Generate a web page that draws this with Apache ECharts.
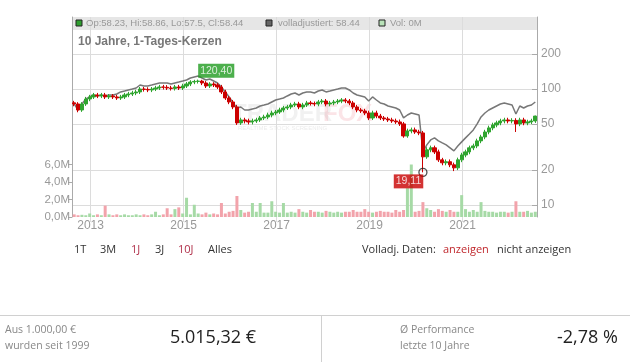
<!DOCTYPE html>
<html><head><meta charset="utf-8">
<script src="https://cdn.jsdelivr.net/npm/echarts@6/dist/echarts.min.js"></script>
<style>html,body{margin:0;padding:0;background:#fff}#c{width:630px;height:362px}</style>
</head><body><div id="c"></div>
<script>
const months = [
'2012-09','2012-10','2012-11','2012-12',
'2013-01','2013-02','2013-03','2013-04','2013-05','2013-06','2013-07','2013-08','2013-09','2013-10','2013-11','2013-12',
'2014-01','2014-02','2014-03','2014-04','2014-05','2014-06','2014-07','2014-08','2014-09','2014-10','2014-11','2014-12',
'2015-01','2015-02','2015-03','2015-04','2015-05','2015-06','2015-07','2015-08','2015-09','2015-10','2015-11','2015-12',
'2016-01','2016-02','2016-03','2016-04','2016-05','2016-06','2016-07','2016-08','2016-09','2016-10','2016-11','2016-12',
'2017-01','2017-02','2017-03','2017-04','2017-05','2017-06','2017-07','2017-08','2017-09','2017-10','2017-11','2017-12',
'2018-01','2018-02','2018-03','2018-04','2018-05','2018-06','2018-07','2018-08','2018-09','2018-10','2018-11','2018-12',
'2019-01','2019-02','2019-03','2019-04','2019-05','2019-06','2019-07','2019-08','2019-09','2019-10','2019-11','2019-12',
'2020-01','2020-02','2020-03','2020-04','2020-05','2020-06','2020-07','2020-08','2020-09','2020-10','2020-11','2020-12',
'2021-01','2021-02','2021-03','2021-04','2021-05','2021-06','2021-07','2021-08','2021-09','2021-10','2021-11','2021-12',
'2022-01','2022-02','2022-03','2022-04','2022-05','2022-06','2022-07','2022-08'];

const opens = [
76.0,74.3,65.9,74.3,
82.0,85.4,88.8,87.1,88.8,85.4,87.1,85.4,83.7,85.4,88.8,90.6,
92.4,94.3,100.0,99.2,98.1,100.0,102.0,104.1,103.5,102.0,101.2,104.1,
102.0,106.2,110.5,114.9,116.2,117.0,112.7,106.2,110.5,108.3,104.1,94.3,
83.7,77.3,70.0,51.0,54.1,53.0,52.0,53.0,54.1,56.3,57.4,59.7,
62.1,63.4,65.9,68.6,70.0,72.8,74.3,70.0,72.8,75.8,75.0,74.3,
77.3,78.8,74.3,75.8,77.3,78.8,80.4,78.8,75.8,70.0,65.9,64.6,
62.1,56.3,62.1,58.5,56.3,55.2,54.1,53.0,52.0,50.0,39.4,43.5,
44.4,42.6,41.8,26.0,29.9,31.1,28.7,24.5,23.1,23.6,22.2,20.9,
24.5,27.0,28.7,31.1,32.3,35.7,38.6,42.6,46.2,49.0,51.0,53.0,
54.1,53.0,53.6,50.0,54.1,51.0,52.0,53.0];

const closes = [
74.3,65.9,74.3,82.0,
85.4,88.8,87.1,88.8,85.4,87.1,85.4,83.7,85.4,88.8,90.6,92.4,
94.3,100.0,99.2,98.1,100.0,102.0,104.1,103.5,102.0,101.2,104.1,102.0,
106.2,110.5,114.9,116.2,117.0,112.7,106.2,110.5,108.3,104.1,94.3,83.7,
77.3,70.0,51.0,54.1,53.0,52.0,53.0,54.1,56.3,57.4,59.7,62.1,
63.4,65.9,68.6,70.0,72.8,74.3,70.0,72.8,75.8,75.0,74.3,77.3,
78.8,74.3,75.8,77.3,78.8,80.4,78.8,75.8,70.0,65.9,64.6,62.1,
56.3,62.1,58.5,56.3,55.2,54.1,53.0,52.0,50.0,39.4,43.5,44.4,
42.6,41.8,26.0,29.9,31.1,28.7,24.5,23.1,23.6,22.2,20.9,24.5,
27.0,28.7,31.1,32.3,35.7,38.6,42.6,46.2,49.0,51.0,53.0,54.1,
53.0,53.6,50.0,54.1,51.0,52.0,53.0,58.44];

const highs = [
79,77,77,85.5,
89,92.5,92.5,92.5,92.5,90.5,90.5,89,89,92.5,94.5,96.5,
98.5,104,104,103.5,104,106.5,108.5,108.5,108,106.5,108.5,108.5,
111,115,119,120,120.4,120,117,114.5,114.5,112.5,108.5,98.5,
87,80.5,73,56.5,56.5,55.5,55.5,56.5,58.5,60,62.5,65,
66,69,71.5,73,76,77.5,77.5,76,79,79,78,80.5,
82,82,79,80.5,82,83.5,83.5,82,79,73,68.5,67.5,
65,65,65,61,58.5,57.5,56.5,55.5,54.5,52,45.5,46.5,
46.5,44.5,43.5,31.5,32.5,32.5,30,25.5,24.7,24.7,23.2,25.6,
28.2,30,32.5,33.8,37.3,40.3,44.5,48.3,51.2,53.3,55.4,56.5,
56.5,56,56,56.5,56.5,54.3,55.4,58.86];

const lows = [
71,63,63.5,71.5,
78.5,82,83.5,83.5,82,82,82,80.5,80.5,82,85,87,
88.5,90.5,95,94,94,96,98,99,98,97,97,98,
98,102,106,110,111.5,108,102,102,104,100,90.5,80.5,
74,67,49,49,50.5,49.5,49.5,51,52,54,55,57,
59.5,61,63,66,67,70,67,67,70,72,71,71,
74,71,71,72.5,74,75.5,75.5,72.5,67,63,62,59.5,
54,54,56,54,53,52,51,50,48,38,38,41.5,
41,40,19.11,25,28.5,27.5,23.5,22,22,21.2,19.6,20,
23.4,25.8,27.4,29.7,30.9,34.1,36.9,40.7,44.1,46.8,48.7,50.6,
50.6,50.6,42.6,47.8,48.7,48.7,49.7,51];

const adjusted = [
74.3,65.9,74.3,82.0,
85.4,88.8,87.1,88.8,87.1,88.8,88.8,90.6,94.3,96.1,98.1,100.0,
102.0,108.3,106.2,106.2,108.3,110.5,112.7,112.7,112.7,110.5,112.7,114.9,
117.2,119.6,124.4,126.9,129.4,124.4,119.6,121.9,117.2,112.7,104.1,94.3,
85.4,75.8,68.6,70.0,65.9,65.9,67.3,68.6,71.4,72.8,74.3,77.3,
80.4,82.0,83.7,87.1,90.6,92.4,88.8,92.4,94.3,94.3,92.4,96.1,
98.1,94.3,96.1,98.1,100.0,102.0,102.0,98.1,92.4,88.8,87.1,85.4,
78.8,85.4,80.4,75.8,74.3,71.4,70.0,68.6,65.9,56.3,59.7,62.1,
60.9,59.7,28.5,33.0,36.4,37.9,35.7,34.3,33.0,31.1,29.3,32.3,
35.0,37.9,41.0,44.4,50.0,57.4,62.1,65.9,68.6,71.4,74.3,75.8,
74.3,72.8,60.9,71.4,68.6,71.4,72.8,77.3];

const volumes = [
0.3,0.2,0.25,0.2,
0.4,0.2,0.3,0.2,1.3,0.3,0.2,0.3,0.2,0.3,0.2,0.2,
0.3,0.2,0.3,0.2,0.3,0.6,0.2,0.3,1.0,0.3,0.9,1.1,
0.4,2.2,0.3,1.4,0.4,0.3,0.5,0.3,0.4,0.3,1.6,0.4,
0.6,0.7,2.4,0.8,0.5,0.6,1.6,0.6,1.6,0.5,0.5,1.8,
0.6,0.5,1.6,0.5,0.6,0.5,0.9,0.6,0.5,0.8,0.6,0.6,
0.5,0.7,0.6,0.5,0.6,0.5,0.6,0.6,0.8,0.6,0.6,0.9,
0.6,0.5,0.6,0.7,0.6,0.6,0.5,0.8,0.6,0.8,3.3,6.0,
0.6,0.7,1.7,1.0,0.8,0.6,0.9,0.7,0.6,0.8,0.6,0.6,
2.5,0.9,0.6,0.8,0.6,1.7,0.7,0.6,0.6,0.5,0.6,0.6,
0.5,0.6,1.8,0.6,0.6,0.7,0.5,0.6];

const yearTicks = [2013, 2015, 2017, 2019, 2021];
const priceTicks = [10, 20, 50, 100, 200];
const volumeTicks = [0, 2, 4, 6];
const markerMonths = ['2015-05', '2020-03'];
const markerValues = [120.40, 19.11];

const L = Math.log10;
const toX = s => { const p = s.split('-').map(Number); return p[0] + (p[1] - 1) / 12 - 0.02; };
const fmtDe = v => v.toFixed(2).replace('.', ',');

const candleData = months.map((m, i) => [toX(m), L(opens[i]), L(closes[i]), L(lows[i]), L(highs[i])]);
const adjData = months.map((m, i) => [toX(m), L(adjusted[i])]);
const volData = months.map((m, i) => ({
  value: [toX(m), volumes[i]],
  itemStyle: { color: closes[i] >= opens[i] ? '#a6daa6' : '#f2a3ab' }
}));

const FONT = '"Liberation Sans", Arial, sans-serif';
const OS = '"Open Sans", sans-serif';
const txt = (x, y, text, fill, font, align) => ({
  type: 'text', x: x, y: y, z: 100,
  style: { text: text, fill: fill, font: font, textAlign: align || 'left', textVerticalAlign: 'middle' }
});

const chart = echarts.init(document.getElementById('c'), null, { renderer: 'canvas' });
chart.setOption({
  animation: false,
  backgroundColor: '#fff',
  grid: { left: 72, right: 93, top: 17, bottom: 145, show: false },
  xAxis: {
    type: 'value', min: 2012.6, max: 2022.6,
    axisLine: { show: false },
    axisTick: { show: true, customValues: yearTicks, length: 5, lineStyle: { color: '#ddd' } },
    axisLabel: { customValues: yearTicks, color: '#999', fontSize: 12, fontFamily: FONT, margin: 3, formatter: v => String(Math.round(v)) },
    splitLine: { show: true, lineStyle: { color: '#dcdcdc', width: 1 } }
  },
  yAxis: [
    {
      type: 'value', position: 'left', min: 0, max: 200 / 8.75,
      axisLine: { show: true, lineStyle: { color: '#aaa' } },
      axisTick: { show: true, customValues: volumeTicks, length: 4, lineStyle: { color: '#aaa' } },
      axisLabel: { customValues: volumeTicks, color: '#999', fontSize: 11.5, fontFamily: FONT, margin: 2,
        formatter: v => v.toFixed(1).replace('.', ',') + 'M' },
      splitLine: { show: false }
    },
    {
      type: 'value', position: 'right', min: 1 - 12 / 116, max: 2 + 72 / 116,
      axisLine: { show: true, lineStyle: { color: '#aaa' } },
      axisTick: { show: true, inside: true, customValues: priceTicks.map(L), length: 5, lineStyle: { color: '#aaa' } },
      axisLabel: { customValues: priceTicks.map(L), color: '#999', fontSize: 12, fontFamily: FONT, margin: 4,
        formatter: v => String(Math.round(Math.pow(10, v))) },
      splitLine: { show: true, lineStyle: { color: '#dcdcdc', width: 1 } }
    }
  ],
  graphic: [
    { type: 'rect', shape: { x: 72, y: 17, width: 465, height: 13 }, style: { fill: '#e6e6e6' }, z: -1 },
    { type: 'rect', shape: { x: 76, y: 20, width: 6, height: 6 }, style: { fill: '#2e9e2e', stroke: '#222', lineWidth: 1 }, z: 100 },
    txt(86, 23.5, 'Op:58.23, Hi:58.86, Lo:57.5, Cl:58.44', '#999', '9.5px ' + FONT),
    { type: 'rect', shape: { x: 266, y: 20, width: 6, height: 6 }, style: { fill: '#666', stroke: '#222', lineWidth: 1 }, z: 100 },
    txt(278, 23.5, 'volladjustiert: 58.44', '#999', '9.5px ' + FONT),
    { type: 'rect', shape: { x: 379, y: 20, width: 6, height: 6 }, style: { fill: '#b8e2b8', stroke: '#222', lineWidth: 1 }, z: 100 },
    txt(390, 23.5, 'Vol: 0M', '#999', '9.5px ' + FONT),
    txt(78, 42, '10 Jahre, 1-Tages-Kerzen', '#777', 'bold 12px ' + FONT),
    { type: 'text', x: 232, y: 114, z: -1, style: { text: 'TRADER', fill: 'rgba(190,190,190,0.22)', font: 'bold 24px ' + FONT, textVerticalAlign: 'middle' } },
    { type: 'text', x: 323, y: 114, z: -1, style: { text: 'FOX', fill: 'rgba(235,120,135,0.2)', font: 'bold 24px ' + FONT, textVerticalAlign: 'middle' } },
    { type: 'text', x: 238, y: 128, z: -1, style: { text: 'REALTIME STOCK SCREENING', fill: 'rgba(190,190,190,0.3)', font: '6px ' + FONT, textVerticalAlign: 'middle' } },
    txt(74, 250, '1T', '#333', '11px ' + OS),
    txt(100, 250, '3M', '#333', '11px ' + OS),
    txt(131, 250, '1J', '#b0304a', '11px ' + OS),
    txt(155, 250, '3J', '#333', '11px ' + OS),
    txt(178, 250, '10J', '#b0304a', '11px ' + OS),
    txt(208, 250, 'Alles', '#333', '11px ' + OS),
    txt(362, 250, 'Volladj. Daten:', '#333', '11px ' + OS),
    txt(443, 250, 'anzeigen', '#c0282d', '11px ' + OS),
    txt(497, 250, 'nicht anzeigen', '#333', '11px ' + OS),
    { type: 'line', shape: { x1: 0, y1: 315.5, x2: 630, y2: 315.5 }, style: { stroke: '#d0d0d0', lineWidth: 1 }, z: 100 },
    { type: 'line', shape: { x1: 321.5, y1: 316, x2: 321.5, y2: 362 }, style: { stroke: '#d0d0d0', lineWidth: 1 }, z: 100 },
    txt(5, 330, 'Aus 1.000,00 €', '#888', '10.5px ' + OS),
    txt(5, 346, 'wurden seit 1999', '#888', '10.5px ' + OS),
    txt(170, 338, '5.015,32 €', '#222', '18px ' + OS),
    txt(400, 330, 'Ø Performance', '#888', '10.5px ' + OS),
    txt(400, 346, 'letzte 10 Jahre', '#888', '10.5px ' + OS),
    txt(557, 338, '-2,78 %', '#222', '18px ' + OS)
  ],
  series: [
    {
      type: 'bar', xAxisIndex: 0, yAxisIndex: 0, barWidth: 3, data: volData, z: 1, silent: true
    },
    {
      type: 'line', xAxisIndex: 0, yAxisIndex: 1, data: adjData, symbol: 'none', z: 3,
      lineStyle: { color: '#777', width: 1.5 }, silent: true
    },
    {
      type: 'candlestick', xAxisIndex: 0, yAxisIndex: 1, data: candleData, barWidth: 3.6, z: 4,
      encode: { x: 0, y: [1, 2, 3, 4] },
      itemStyle: { color: '#2fa52f', color0: '#cc0000', borderColor: '#2fa52f', borderColor0: '#cc0000', borderWidth: 1 }
    },
    {
      type: 'scatter', xAxisIndex: 0, yAxisIndex: 1, z: 10, silent: true,
      data: [
        { value: [toX(markerMonths[0]), L(markerValues[0])], symbolSize: 0,
          label: { show: true, position: 'right', distance: 0, offset: [0, -9], formatter: fmtDe(markerValues[0]),
            backgroundColor: '#1f9b1f', color: '#fff', padding: [1, 2], fontSize: 10.5, lineHeight: 12, fontFamily: FONT } },
        { value: [toX(markerMonths[1]), L(markerValues[1])], symbol: 'circle', symbolSize: 8,
          itemStyle: { color: 'rgba(255,255,255,0)', borderColor: '#222', borderWidth: 1.3 },
          label: { show: true, position: 'left', distance: 1, offset: [6, 9], formatter: fmtDe(markerValues[1]),
            backgroundColor: '#c80000', color: '#fff', padding: [1, 2], fontSize: 10.5, lineHeight: 12, fontFamily: FONT } }
      ]
    }
  ]
});
</script></body></html>
